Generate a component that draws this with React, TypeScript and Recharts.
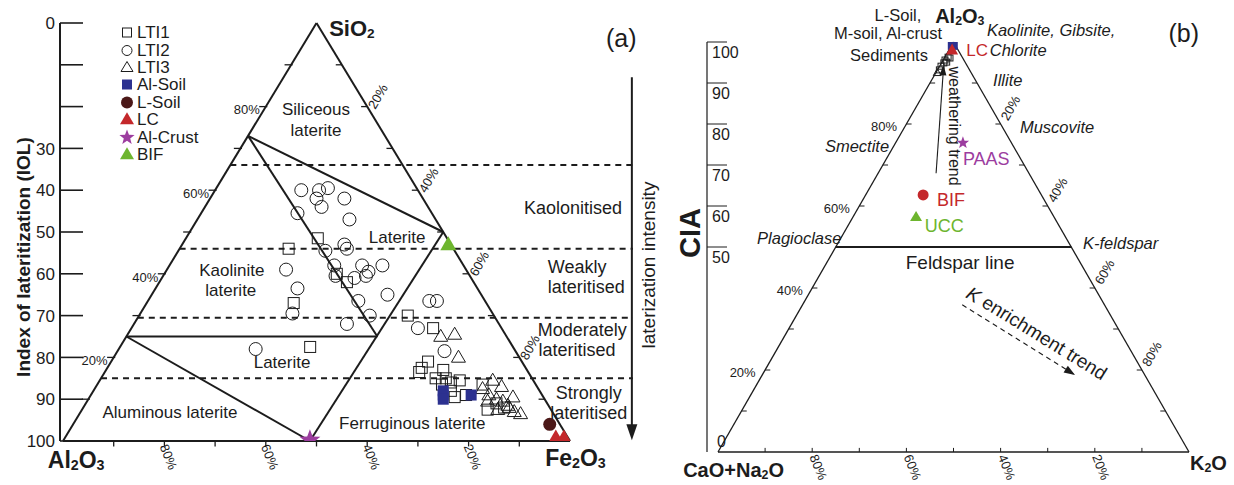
import React from "react";
import {
  Legend,
  ReferenceDot,
  ReferenceLine,
  Scatter,
  ScatterChart,
  XAxis,
  YAxis,
} from "recharts";

const FONT = '"Liberation Sans", Arial, Helvetica, sans-serif';
const INK = "#1c1c1c";
const BLUE = "#2c3190";
const BROWN = "#4b1818";
const RED = "#c4282b";
const PURPLE = "#9c3d9f";
const GREEN = "#6db52e";

// (a) SiO2 - Al2O3 - Fe2O3 diagram, each point is [SiO2 %, Fe2O3 %]
const lti1A = [
  [46, 21.5], [48.5, 26], [40, 34], [38, 37], [33, 29], [22.5, 37.5],
  [30, 53], [27, 59.5], [19, 62.5], [17.5, 62], [16.5, 62], [17, 66.5],
  [15, 66], [15, 68], [14, 69.5], [13.5, 68], [12, 70.5], [10.5, 72],
  [11, 74], [13.5, 76], [7.5, 80], [9, 81], [8, 83], [14.5, 71],
];
const lti2A = [
  [60, 17], [60, 20.5], [60.5, 22], [58, 21], [56, 23], [58, 26.5],
  [54.5, 19], [53, 30], [47, 32], [46, 33], [45.5, 29], [41, 23.5],
  [42, 32.5], [39.5, 34], [42, 38], [42, 42], [40.5, 40], [39.5, 40],
  [39, 38], [36.5, 28], [35, 46.5], [33.5, 41.5], [30.5, 30], [30, 45.5],
  [28, 42], [22, 27], [33.5, 55.5], [33.5, 57], [27, 56.5], [21.5, 64.5],
];
const lti3A = [
  [25, 62], [25.5, 64.5], [20, 68], [14.5, 77.5], [12.5, 76.5], [13, 80],
  [11, 78.5], [10, 80.5], [9.5, 82], [8.5, 83.5], [8, 84], [7, 85.5],
  [6.5, 87], [7.5, 82], [9.5, 79], [10.5, 83.5],
];
const alSoilA = [[12, 69], [11, 69.5], [10, 70], [11, 75]];
const lSoilA = [[4, 94]];
const lcA = [[1, 96.7], [1, 98.3]];
const alCrustA = [[0.2, 48.6]];
const bifA = [[47, 52.5]];

// field boundaries of the laterite classification, [SiO2 %, Fe2O3 %]
const nodeP = [73, 0];
const nodeQ = [50, 50];
const nodeR = [25, 49.5];
const nodeL = [25, 0];
const nodeB = [0, 48.7];

const iolTicks = [0, 10, 20, 30, 40, 50, 60, 70, 80, 90, 100];
const iolLabelled = [0, 30, 40, 50, 60, 70, 80, 90, 100];
const zoneIol = [34, 54, 70.5, 85];
const edgeTicks = [10, 20, 30, 40, 50, 60, 70, 80, 90];
const edgeLabels = [20, 40, 60, 80];
const legendOrder = ["LTI1", "LTI2", "LTI3", "Al-Soil", "L-Soil", "LC", "Al-Crust", "BIF"];

// (b) A - CN - K diagram, each point is [CIA (Al2O3 %), K2O %]
const sedimentsB = [
  [96.3, 0.7], [95.6, 0.4], [94.9, 0.5], [94.1, 0.3], [95.1, 1.0],
  [96.1, 1.2], [93.2, 0.4],
];
const lti3B = [[92.5, 0.3]];
const alSoilB = [[99.3, 0.2]];
const lcB = [[98, 0.7]];
const paasB = [[75.4, 14.3]];
const bifB = [[62.7, 12.2]];
const uccB = [[57.3, 13.4]];
const weatheringTrend = [[68, 12.3], [92.4, 1.6]];
const kTrend = [[35.9, 33.9], [18.8, 66.4]];
const ciaTicks = [0, 50, 60, 70, 80, 90, 100];

const toA = (p: number[]) => ({ x: p[1] + p[0] / 2, y: 100 - p[0] });
const toB = (p: number[]) => ({ x: p[1] + p[0] / 2, y: p[0] });

// ---------- symbols ----------
const triPts = (cx: number, cy: number, w: number, h: number) =>
  `${cx},${cy - h * 0.6} ${cx - w / 2},${cy + h * 0.4} ${cx + w / 2},${cy + h * 0.4}`;

const starPts = (cx: number, cy: number, R: number, r: number) =>
  Array.from({ length: 10 }, (_, i) => {
    const a = -Math.PI / 2 + (i * Math.PI) / 5;
    const d = i % 2 ? r : R;
    return `${cx + d * Math.cos(a)},${cy + d * Math.sin(a)}`;
  }).join(" ");

const openSquare = (s: number) => (p: any) => (
  <rect x={p.cx - s / 2} y={p.cy - s / 2} width={s} height={s} fill="none" stroke={INK} strokeWidth={1} />
);
const openCircle = (r: number) => (p: any) => (
  <circle cx={p.cx} cy={p.cy} r={r} fill="none" stroke={INK} strokeWidth={1} />
);
const openTri = (w: number, h: number) => (p: any) => (
  <polygon points={triPts(p.cx, p.cy, w, h)} fill="none" stroke={INK} strokeWidth={1} />
);
const fillSquare = (s: number, c: string) => (p: any) => (
  <rect x={p.cx - s / 2} y={p.cy - s / 2} width={s} height={s} fill={c} />
);
const fillCircle = (r: number, c: string) => (p: any) => (
  <circle cx={p.cx} cy={p.cy} r={r} fill={c} />
);
const fillTri = (w: number, h: number, c: string) => (p: any) => (
  <polygon points={triPts(p.cx, p.cy, w, h)} fill={c} />
);
const star = (R: number, c: string) => (p: any) => (
  <polygon points={starPts(p.cx, p.cy, R, R * 0.42)} fill={c} />
);

const legendIcons: Record<string, (p: any) => React.ReactElement> = {
  LTI1: openSquare(9),
  LTI2: openCircle(5),
  LTI3: openTri(12, 10),
  "Al-Soil": fillSquare(10, BLUE),
  "L-Soil": fillCircle(6, BROWN),
  LC: fillTri(14, 12, RED),
  "Al-Crust": star(8, PURPLE),
  BIF: fillTri(14, 12, GREEN),
};

function LegendBox(props: any) {
  const items = [...(props.payload ?? [])].sort(
    (a: any, b: any) => legendOrder.indexOf(a.value) - legendOrder.indexOf(b.value)
  );
  return (
    <div style={{ fontFamily: FONT, fontSize: 17, color: INK }}>
      {items.map((it: any) => (
        <div key={it.value} style={{ display: "flex", alignItems: "center", height: 17.4 }}>
          <svg width={18} height={17}>{legendIcons[it.value]?.({ cx: 9, cy: 8.5 })}</svg>
          <span style={{ marginLeft: 1, lineHeight: "17px" }}>{it.value}</span>
        </div>
      ))}
    </div>
  );
}

// ---------- helpers for annotations ----------
type NoteOpts = {
  size?: number;
  anchor?: "start" | "middle" | "end";
  bold?: boolean;
  italic?: boolean;
  color?: string;
  angle?: number;
  central?: boolean;
};

function note(key: string, x: number, y: number, content: React.ReactNode, o: NoteOpts = {}) {
  const { size = 17, anchor = "middle", bold, italic, color = INK, angle = 0, central = true } = o;
  return (
    <ReferenceDot
      key={key}
      x={x}
      y={y}
      r={0}
      ifOverflow="visible"
      shape={(p: any) => (
        <text
          x={p.cx}
          y={p.cy}
          fontSize={size}
          textAnchor={anchor}
          dominantBaseline={central ? "central" : "auto"}
          fontWeight={bold ? 700 : 400}
          fontStyle={italic ? "italic" : "normal"}
          fill={color}
          transform={angle ? `rotate(${angle} ${p.cx} ${p.cy})` : undefined}
        >
          {content}
        </text>
      )}
    />
  );
}

function seg(key: string, a: { x: number; y: number }, b: { x: number; y: number }, width = 2, dash?: string) {
  return (
    <ReferenceLine
      key={key}
      segment={[a, b]}
      stroke={INK}
      strokeWidth={width}
      strokeDasharray={dash}
      ifOverflow="visible"
    />
  );
}

function arrowHead(key: string, at: { x: number; y: number }, angle: number, len: number, half: number) {
  return (
    <ReferenceDot
      key={key}
      x={at.x}
      y={at.y}
      r={0}
      ifOverflow="visible"
      shape={(p: any) => (
        <polygon
          points={`0,0 ${-len},${-half} ${-len},${half}`}
          transform={`translate(${p.cx} ${p.cy}) rotate(${angle})`}
          fill={INK}
        />
      )}
    />
  );
}

const chem = (a: string, i: string, b?: string, j?: string) => (
  <>
    {a}
    <tspan dy={5} fontSize="0.62em">{i}</tspan>
    {b && <tspan dy={-5}>{b}</tspan>}
    {j && <tspan dy={5} fontSize="0.62em">{j}</tspan>}
  </>
);

const IolTick = (p: any) => {
  const v = p.payload.value;
  return (
    <g>
      <line x1={p.x} x2={p.x + 23} y1={p.y} y2={p.y} stroke={INK} strokeWidth={1.6} />
      {iolLabelled.includes(v) && (
        <text x={p.x - 5} y={p.y} dy="0.36em" textAnchor="end" fontSize={17} fill={INK}>
          {v}
        </text>
      )}
    </g>
  );
};

const CiaTick = (p: any) => {
  const v = p.payload.value;
  return (
    <g>
      {v > 0 && <line x1={p.x} x2={p.x + 20} y1={p.y} y2={p.y} stroke={INK} strokeWidth={1} />}
      <text
        x={p.x + (v > 0 ? 5 : 10)}
        y={p.y + (v > 0 ? 10 : -11)}
        dy="0.36em"
        textAnchor="start"
        fontSize={16}
        fill={INK}
      >
        {v}
      </text>
    </g>
  );
};

function PanelA() {
  const Al = toA([0, 0]);
  const Fe = toA([0, 100]);
  const Si = toA([100, 0]);
  const P = toA(nodeP);
  const Q = toA(nodeQ);
  const R = toA(nodeR);
  const L = toA(nodeL);
  const B = toA(nodeB);
  return (
    <ScatterChart width={660} height={485} margin={{ top: 23, right: 0, bottom: 44, left: 0 }}>
      <XAxis type="number" dataKey="x" domain={[-0.592, 117.75]} hide allowDataOverflow />
      <YAxis
        type="number"
        dataKey="y"
        domain={[0, 100]}
        reversed
        ticks={iolTicks}
        interval={0}
        width={60}
        tickSize={0}
        tickMargin={0}
        tickLine={false}
        axisLine={{ stroke: INK, strokeWidth: 2 }}
        tick={IolTick}
        allowDataOverflow
      />

      {seg("e1", Al, Fe)}
      {seg("e2", Al, Si)}
      {seg("e3", Fe, Si)}
      {seg("f1", P, Q)}
      {seg("f2", P, R)}
      {seg("f3", Q, B)}
      {seg("f4", L, R)}
      {seg("f5", L, B)}
      {zoneIol.map((v) => seg(`z${v}`, { x: (100 - v) / 2, y: v }, { x: 112.4, y: v }, 2, "6 5"))}
      {seg("arrow", { x: 112.2, y: 13 }, { x: 112.2, y: 96.5 })}
      {arrowHead("arrowHead", { x: 112.2, y: 99.8 }, 90, 16, 5.5)}

      {edgeTicks.map((s) => {
        const pt = toA([s, 0]);
        return seg(`lt${s}`, { x: pt.x - 1.3, y: pt.y }, { x: pt.x + 0.3, y: pt.y }, 1.3);
      })}
      {edgeTicks.map((f) => {
        const pt = toA([100 - f, f]);
        return seg(`rt${f}`, { x: pt.x - 1.2, y: pt.y }, { x: pt.x, y: pt.y }, 1.3);
      })}
      {edgeTicks.map((f) => seg(`bt${f}`, { x: f, y: 100 }, { x: f, y: 101.3 }, 1.3))}

      {edgeLabels.map((s) => {
        const pt = toA([s, 0]);
        return note(`ll${s}`, pt.x - 1.2, pt.y + 0.8, `${s}%`, { size: 13, anchor: "end" });
      })}
      {edgeLabels.map((f) => {
        const pt = toA([100 - f, f]);
        return note(`rl${f}`, pt.x + 2.1, pt.y - 2.4, `${f}%`, { size: 13, angle: -60 });
      })}
      {edgeLabels.map((f) => note(`bl${f}`, f + 0.8, 103.8, `${100 - f}%`, { size: 13, angle: 68 }))}

      {note("si", 52.5, 1.2, chem("SiO", "2"), { size: 22, bold: true, anchor: "start" })}
      {note("al", -3.0, 104.5, chem("Al", "2", "O", "3"), { size: 23, bold: true, anchor: "start" })}
      {note("fe", 95.1, 104.1, chem("Fe", "2", "O", "3"), { size: 23, bold: true, anchor: "start" })}
      {note("tag", 110.1, 3.6, "(a)", { size: 25 })}
      {note("iol", -6.5, 56, "Index of lateritization (IOL)", { size: 19, bold: true, angle: -90, central: false })}
      {note("int", 116.8, 57.9, "laterization intensity", { size: 19, angle: -90, central: false })}

      {note("s1", 49.9, 20.8, "Siliceous")}
      {note("s2", 49.9, 25.6, "laterite")}
      {note("k1", 33.3, 59.3, "Kaolinite")}
      {note("k2", 33.1, 64.1, "laterite")}
      {note("lt1", 65.9, 51.4, "Laterite")}
      {note("lt2", 43.2, 81.3, "Laterite")}
      {note("alu", 21.1, 93.3, "Aluminous laterite")}
      {note("fer", 68.9, 95.7, "Ferruginous laterite")}
      {note("z1", 100.6, 44.3, "Kaolonitised", { size: 18 })}
      {note("z2a", 101.4, 58.4, "Weakly", { size: 18 })}
      {note("z2b", 103.2, 63.2, "lateritised", { size: 18 })}
      {note("z3a", 102.4, 73.4, "Moderately", { size: 18 })}
      {note("z3b", 101.4, 78.2, "lateritised", { size: 18 })}
      {note("z4a", 103.7, 88.5, "Strongly", { size: 18 })}
      {note("z4b", 103.7, 93.3, "lateritised", { size: 18 })}

      <Scatter name="LTI1" data={lti1A.map(toA)} shape={openSquare(11)} isAnimationActive={false} />
      <Scatter name="LTI2" data={lti2A.map(toA)} shape={openCircle(6.5)} isAnimationActive={false} />
      <Scatter name="LTI3" data={lti3A.map(toA)} shape={openTri(14, 12)} isAnimationActive={false} />
      <Scatter name="Al-Soil" data={alSoilA.map(toA)} shape={fillSquare(11, BLUE)} isAnimationActive={false} />
      <Scatter name="L-Soil" data={lSoilA.map(toA)} shape={fillCircle(6.5, BROWN)} isAnimationActive={false} />
      <Scatter name="LC" data={lcA.map(toA)} shape={fillTri(14, 12, RED)} isAnimationActive={false} />
      <Scatter name="Al-Crust" data={alCrustA.map(toA)} shape={star(11, PURPLE)} isAnimationActive={false} />
      <Scatter name="BIF" data={bifA.map(toA)} shape={fillTri(16, 14, GREEN)} isAnimationActive={false} />

      <Legend
        layout="vertical"
        align="center"
        verticalAlign="middle"
        content={<LegendBox />}
        wrapperStyle={{ left: 118, top: 24, width: 110, height: 145 }}
      />
    </ScatterChart>
  );
}

function PanelB() {
  const CN = toB([0, 0]);
  const K = toB([0, 100]);
  const A = toB([100, 0]);
  const w0 = toB(weatheringTrend[0]);
  const w1 = toB(weatheringTrend[1]);
  const k0 = toB(kTrend[0]);
  const k1 = toB(kTrend[1]);
  return (
    <ScatterChart width={574} height={485} margin={{ top: 42, right: 0, bottom: 33, left: 0 }}>
      <XAxis type="number" dataKey="x" domain={[-2.335, 109.55]} hide allowDataOverflow />
      <YAxis
        type="number"
        dataKey="y"
        domain={[0, 100]}
        ticks={ciaTicks}
        interval={0}
        width={47}
        tickSize={0}
        tickMargin={0}
        tickLine={false}
        axisLine={{ stroke: INK, strokeWidth: 1.2 }}
        tick={CiaTick}
        allowDataOverflow
      />

      {seg("e1", CN, K, 1.3)}
      {seg("e2", CN, A, 1.3)}
      {seg("e3", K, A, 1.3)}
      {seg("fsp", toB([50, 0]), toB([50, 50]), 2.2)}
      {seg("wt", w0, w1, 1.1)}
      {arrowHead("wth", { x: w1.x + 0.1, y: w1.y + 1.9 }, -86, 10, 3.5)}
      {seg("kt", k0, k1, 1.1, "5 4")}
      {arrowHead("kth", k1, 32, 11, 4)}

      {edgeTicks.map((a) => {
        const pt = toB([a, 0]);
        return seg(`lt${a}`, pt, { x: pt.x + 1.1, y: pt.y }, 1);
      })}
      {edgeTicks.map((a) => {
        const pt = toB([a, 100 - a]);
        return seg(`rt${a}`, { x: pt.x - 1.1, y: pt.y }, pt, 1);
      })}
      {edgeTicks.map((k) => seg(`bt${k}`, { x: k, y: 0 }, { x: k, y: 1 }, 1))}

      {edgeLabels.map((a) => {
        const pt = toB([a, 0]);
        return note(`ll${a}`, pt.x - 2.0, pt.y - 0.5, `${a}%`, { size: 13, anchor: "end" });
      })}
      {edgeLabels.map((a) => {
        const pt = toB([a, 100 - a]);
        return note(`rl${a}`, pt.x + 2.1, pt.y + 3.9, `${100 - a}%`, { size: 13, angle: -60 });
      })}
      {edgeLabels.map((k) => note(`bl${k}`, k + 1.3, -3.7, `${100 - k}%`, { size: 13, angle: 68 }))}

      {note("al", 46.1, 106.3, chem("Al", "2", "O", "3"), { size: 20, bold: true, anchor: "start" })}
      {note("cn", -7.4, -4.4, chem("CaO+Na", "2", "O"), { size: 20, bold: true, anchor: "start" })}
      {note("k", 100.2, -2.7, chem("K", "2", "O"), { size: 20, bold: true, anchor: "start" })}
      {note("tag", 98.9, 102.2, "(b)", { size: 25 })}
      {note("cia", -3.82, 53.4, "CIA", { size: 29, bold: true, angle: -90, central: false })}

      {note("n1", 38.2, 106.6, "L-Soil,", { size: 16.5 })}
      {note("n2", 36.1, 102.2, "M-soil, Al-crust", { size: 16.5 })}
      {note("n3", 36.3, 96.8, "Sediments", { size: 16.5 })}
      {note("m1", 57.1, 102.9, "Kaolinite, Gibsite,", { size: 16.5, italic: true, anchor: "start" })}
      {note("lc", 52.7, 98.0, "LC", { size: 17, anchor: "start", color: RED })}
      {note("m2", 57.7, 98.0, "Chlorite", { size: 16.5, italic: true, anchor: "start" })}
      {note("m3", 58.4, 90.7, "Illite", { size: 16.5, italic: true, anchor: "start" })}
      {note("m4", 64.1, 79.3, "Muscovite", { size: 16.5, italic: true, anchor: "start" })}
      {note("m5", 22.7, 74.6, "Smectite", { size: 16.5, italic: true, anchor: "start" })}
      {note("m6", 8.3, 52.2, "Plagioclase", { size: 16.5, italic: true, anchor: "start" })}
      {note("m7", 77.5, 51.0, "K-feldspar", { size: 16.5, italic: true, anchor: "start" })}
      {note("fl", 51.4, 46.1, "Feldspar line", { size: 19 })}
      {note("paas", 52.0, 71.5, "PAAS", { size: 18, anchor: "start", color: PURPLE })}
      {note("bif", 46.5, 61.5, "BIF", { size: 18, anchor: "start", color: RED })}
      {note("ucc", 43.9, 55.1, "UCC", { size: 18, anchor: "start", color: GREEN })}
      {note("wtt", 49.0, 79.5, "weathering trend", { size: 16, angle: 90, central: false })}
      {note(
        "ktt",
        67.7,
        29.0,
        <>
          <tspan fontStyle="italic">K</tspan> enrichment trend
        </>,
        { size: 19, angle: 31.6 }
      )}

      <Scatter name="Sediments" data={sedimentsB.map(toB)} shape={openSquare(6)} isAnimationActive={false} />
      <Scatter name="LTI3" data={lti3B.map(toB)} shape={openTri(8, 7)} isAnimationActive={false} />
      <Scatter name="Al-Soil" data={alSoilB.map(toB)} shape={fillSquare(10, BLUE)} isAnimationActive={false} />
      <Scatter name="LC" data={lcB.map(toB)} shape={fillTri(12, 11, RED)} isAnimationActive={false} />
      <Scatter name="PAAS" data={paasB.map(toB)} shape={star(6.5, PURPLE)} isAnimationActive={false} />
      <Scatter name="BIF" data={bifB.map(toB)} shape={fillCircle(5.5, RED)} isAnimationActive={false} />
      <Scatter name="UCC" data={uccB.map(toB)} shape={fillTri(12, 10, GREEN)} isAnimationActive={false} />
    </ScatterChart>
  );
}

export default function App() {
  return (
    <div
      style={{
        position: "absolute",
        left: 0,
        top: 0,
        width: 1234,
        height: 485,
        background: "#fff",
        fontFamily: FONT,
        color: INK,
      }}
    >
      <div style={{ position: "absolute", left: 0, top: 0 }}>
        <PanelA />
      </div>
      <div style={{ position: "absolute", left: 660, top: 0 }}>
        <PanelB />
      </div>
    </div>
  );
}
